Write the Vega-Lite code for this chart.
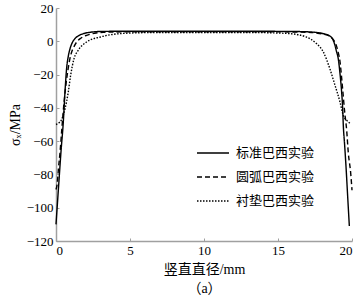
{
  "$schema": "https://vega.github.io/schema/vega-lite/v6.json",
  "width": 296,
  "height": 233,
  "autosize": {"type": "none"},
  "padding": {"left": 56, "top": 8, "right": 7, "bottom": 60},
  "background": "white",
  "config": {
    "view": {"stroke": null},
    "font": "Liberation Serif",
    "axis": {
      "domainColor": "#a0a0a0",
      "domainWidth": 1.5,
      "tickColor": "#a0a0a0",
      "tickWidth": 1,
      "tickSize": -3,
      "grid": false,
      "labelFont": "Liberation Serif",
      "labelFontSize": 13,
      "labelColor": "black",
      "titleFont": "Liberation Serif, Noto Sans CJK SC",
      "titleFontSize": 14,
      "titleFontWeight": "normal",
      "titleColor": "black"
    }
  },
  "data": {
    "values": [
      {"s": "标准巴西实验", "x": 0, "y": -110},
      {"s": "标准巴西实验", "x": 0.1, "y": -97},
      {"s": "标准巴西实验", "x": 0.2, "y": -84},
      {"s": "标准巴西实验", "x": 0.34, "y": -66},
      {"s": "标准巴西实验", "x": 0.49, "y": -49},
      {"s": "标准巴西实验", "x": 0.61, "y": -30},
      {"s": "标准巴西实验", "x": 0.72, "y": -16},
      {"s": "标准巴西实验", "x": 0.83, "y": -9},
      {"s": "标准巴西实验", "x": 0.95, "y": -4.4},
      {"s": "标准巴西实验", "x": 1.1, "y": -0.8},
      {"s": "标准巴西实验", "x": 1.28, "y": 1.6},
      {"s": "标准巴西实验", "x": 1.5, "y": 3.2},
      {"s": "标准巴西实验", "x": 1.85, "y": 4.6},
      {"s": "标准巴西实验", "x": 2.3, "y": 5.4},
      {"s": "标准巴西实验", "x": 3, "y": 5.9},
      {"s": "标准巴西实验", "x": 4, "y": 6.0},
      {"s": "标准巴西实验", "x": 6, "y": 6.0},
      {"s": "标准巴西实验", "x": 8, "y": 6.0},
      {"s": "标准巴西实验", "x": 10, "y": 6.0},
      {"s": "标准巴西实验", "x": 12, "y": 6.0},
      {"s": "标准巴西实验", "x": 14, "y": 6.0},
      {"s": "标准巴西实验", "x": 16, "y": 5.9},
      {"s": "标准巴西实验", "x": 17, "y": 5.7},
      {"s": "标准巴西实验", "x": 17.6, "y": 5.3},
      {"s": "标准巴西实验", "x": 18.1, "y": 4.5},
      {"s": "标准巴西实验", "x": 18.5, "y": 3.2},
      {"s": "标准巴西实验", "x": 18.7, "y": 1.2},
      {"s": "标准巴西实验", "x": 18.85, "y": -2.4},
      {"s": "标准巴西实验", "x": 18.95, "y": -6},
      {"s": "标准巴西实验", "x": 19.07, "y": -10.4},
      {"s": "标准巴西实验", "x": 19.2, "y": -20.4},
      {"s": "标准巴西实验", "x": 19.3, "y": -30.5},
      {"s": "标准巴西实验", "x": 19.37, "y": -40.5},
      {"s": "标准巴西实验", "x": 19.41, "y": -50},
      {"s": "标准巴西实验", "x": 19.5, "y": -62},
      {"s": "标准巴西实验", "x": 19.6, "y": -76},
      {"s": "标准巴西实验", "x": 19.7, "y": -92},
      {"s": "标准巴西实验", "x": 19.82, "y": -111},
      {"s": "圆弧巴西实验", "x": 0, "y": -89},
      {"s": "圆弧巴西实验", "x": 0.09, "y": -85},
      {"s": "圆弧巴西实验", "x": 0.16, "y": -77},
      {"s": "圆弧巴西实验", "x": 0.27, "y": -67},
      {"s": "圆弧巴西实验", "x": 0.4, "y": -52},
      {"s": "圆弧巴西实验", "x": 0.55, "y": -36},
      {"s": "圆弧巴西实验", "x": 0.7, "y": -24},
      {"s": "圆弧巴西实验", "x": 0.83, "y": -16},
      {"s": "圆弧巴西实验", "x": 0.95, "y": -10},
      {"s": "圆弧巴西实验", "x": 1.06, "y": -6.4},
      {"s": "圆弧巴西实验", "x": 1.2, "y": -3.5},
      {"s": "圆弧巴西实验", "x": 1.4, "y": -0.4},
      {"s": "圆弧巴西实验", "x": 1.7, "y": 2},
      {"s": "圆弧巴西实验", "x": 2.07, "y": 3.6},
      {"s": "圆弧巴西实验", "x": 2.6, "y": 4.8},
      {"s": "圆弧巴西实验", "x": 3.2, "y": 5.4},
      {"s": "圆弧巴西实验", "x": 4, "y": 5.6},
      {"s": "圆弧巴西实验", "x": 7, "y": 5.7},
      {"s": "圆弧巴西实验", "x": 10, "y": 5.7},
      {"s": "圆弧巴西实验", "x": 13, "y": 5.7},
      {"s": "圆弧巴西实验", "x": 16, "y": 5.6},
      {"s": "圆弧巴西实验", "x": 17, "y": 5.4},
      {"s": "圆弧巴西实验", "x": 17.6, "y": 5.0},
      {"s": "圆弧巴西实验", "x": 18.1, "y": 4.2},
      {"s": "圆弧巴西实验", "x": 18.5, "y": 3.0},
      {"s": "圆弧巴西实验", "x": 18.75, "y": 0.8},
      {"s": "圆弧巴西实验", "x": 18.9, "y": -1.5},
      {"s": "圆弧巴西实验", "x": 19.05, "y": -6},
      {"s": "圆弧巴西实验", "x": 19.2, "y": -13},
      {"s": "圆弧巴西实验", "x": 19.3, "y": -22},
      {"s": "圆弧巴西实验", "x": 19.4, "y": -32},
      {"s": "圆弧巴西实验", "x": 19.5, "y": -42},
      {"s": "圆弧巴西实验", "x": 19.64, "y": -53.5},
      {"s": "圆弧巴西实验", "x": 19.75, "y": -67},
      {"s": "圆弧巴西实验", "x": 19.91, "y": -79},
      {"s": "圆弧巴西实验", "x": 20, "y": -89.5},
      {"s": "衬垫巴西实验", "x": 0, "y": -50},
      {"s": "衬垫巴西实验", "x": 0.2, "y": -49},
      {"s": "衬垫巴西实验", "x": 0.38, "y": -47},
      {"s": "衬垫巴西实验", "x": 0.61, "y": -40.5},
      {"s": "衬垫巴西实验", "x": 0.83, "y": -30.5},
      {"s": "衬垫巴西实验", "x": 0.99, "y": -20.4},
      {"s": "衬垫巴西实验", "x": 1.22, "y": -10.4},
      {"s": "衬垫巴西实验", "x": 1.5, "y": -5.4},
      {"s": "衬垫巴西实验", "x": 2.07, "y": -0.4},
      {"s": "衬垫巴西实验", "x": 3, "y": 2.6},
      {"s": "衬垫巴西实验", "x": 4.3, "y": 4.6},
      {"s": "衬垫巴西实验", "x": 5.5, "y": 5.1},
      {"s": "衬垫巴西实验", "x": 7, "y": 5.3},
      {"s": "衬垫巴西实验", "x": 10, "y": 5.3},
      {"s": "衬垫巴西实验", "x": 13, "y": 5.3},
      {"s": "衬垫巴西实验", "x": 14.5, "y": 5.1},
      {"s": "衬垫巴西实验", "x": 15.8, "y": 4.6},
      {"s": "衬垫巴西实验", "x": 16.9, "y": 2.6},
      {"s": "衬垫巴西实验", "x": 17.6, "y": -1.4},
      {"s": "衬垫巴西实验", "x": 18.06, "y": -6.4},
      {"s": "衬垫巴西实验", "x": 18.5, "y": -16.4},
      {"s": "衬垫巴西实验", "x": 18.85, "y": -26.4},
      {"s": "衬垫巴西实验", "x": 19.19, "y": -36.5},
      {"s": "衬垫巴西实验", "x": 19.41, "y": -44.5},
      {"s": "衬垫巴西实验", "x": 19.65, "y": -47.5},
      {"s": "衬垫巴西实验", "x": 19.9, "y": -49.5}
    ]
  },
  "mark": {"type": "line", "color": "black", "strokeWidth": 1.4, "interpolate": "monotone"},
  "encoding": {
    "x": {
      "field": "x",
      "type": "quantitative",
      "scale": {"domain": [0, 20], "nice": false},
      "axis": {
        "values": [0, 5, 10, 15, 20],
        "labelPadding": 6,
        "title": ["竖直直径/mm", "（a）"],
        "titleLineHeight": 19,
        "titlePadding": 5
      }
    },
    "y": {
      "field": "y",
      "type": "quantitative",
      "scale": {"domain": [-120, 20], "nice": false},
      "axis": {
        "values": [-120, -100, -80, -60, -40, -20, 0, 20],
        "labelPadding": 6,
        "title": "σₓ/MPa",
        "titlePadding": 4
      }
    },
    "strokeDash": {
      "field": "s",
      "type": "nominal",
      "scale": {
        "domain": ["标准巴西实验", "圆弧巴西实验", "衬垫巴西实验"],
        "range": [[1, 0], [5, 3], [1.5, 1.5]]
      },
      "legend": {
        "title": null,
        "orient": "none",
        "legendX": 140,
        "legendY": 128,
        "padding": 0,
        "symbolType": "stroke",
        "symbolSize": 1024,
        "symbolStrokeColor": "black",
        "symbolStrokeWidth": 1.4,
        "labelFont": "Liberation Serif, Noto Sans CJK SC",
        "labelFontSize": 13,
        "labelColor": "black",
        "labelOffset": 6,
        "rowPadding": -2
      }
    }
  }
}
